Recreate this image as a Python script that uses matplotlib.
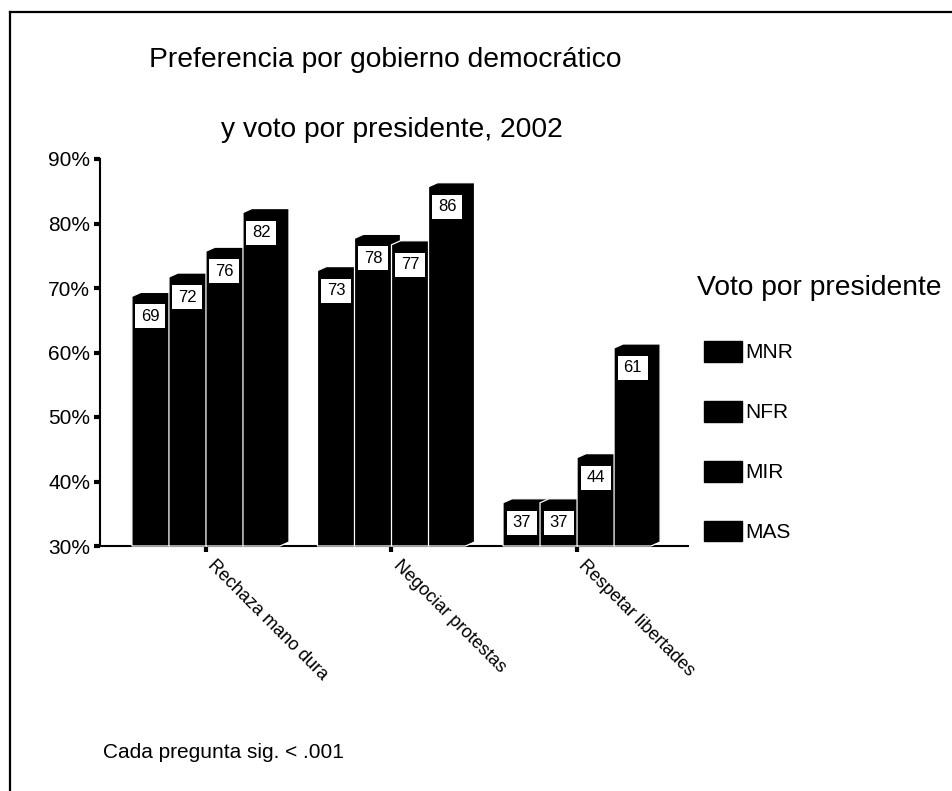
import matplotlib
matplotlib.use("Agg")
import matplotlib.pyplot as plt
from matplotlib.patches import Polygon, Rectangle, Patch
from matplotlib.lines import Line2D
from matplotlib import font_manager

# ---- data ----
categories = ["Rechaza mano dura", "Negociar protestas", "Respetar libertades"]
series = ["MNR", "NFR", "MIR", "MAS"]
mnr = [69, 73, 37]
nfr = [72, 78, 37]
mir = [76, 77, 44]
mas = [82, 86, 61]
values = [mnr, nfr, mir, mas]
yticks = [30, 40, 50, 60, 70, 80, 90]
ytick_labels = ["30%", "40%", "50%", "60%", "70%", "80%", "90%"]
title1 = "Preferencia por gobierno democrático"
title2 = "y voto por presidente, 2002"
legend_title = "Voto por presidente"
footer = "Cada pregunta sig. < .001"

names = {f.name for f in font_manager.fontManager.ttflist}
BASE = "Liberation Sans" if "Liberation Sans" in names else "DejaVu Sans"
NARROW = "Liberation Sans Narrow" if "Liberation Sans Narrow" in names else BASE
plt.rcParams["font.family"] = [BASE, "DejaVu Sans"]

W, H = 952, 791
fig = plt.figure(figsize=(W / 100, H / 100), dpi=100)
fig.patch.set_facecolor("white")


def fx(px):
    return px / W


def fy(py):
    return 1 - py / H


ax = fig.add_axes([fx(100), fy(546), 588 / W, (546 - 159) / H])
ax.set_xlim(-0.571, 2.598)
ax.set_ylim(30, 90)
ax.set_facecolor("none")
for s in ["top", "right"]:
    ax.spines[s].set_visible(False)
for s in ["left", "bottom"]:
    ax.spines[s].set_linewidth(1.5)
    ax.spines[s].set_color("black")
    ax.spines[s].set_zorder(1)

ax.set_yticks(yticks)
ax.set_yticklabels(ytick_labels)
ax.tick_params(axis="y", length=4, width=3, direction="out", pad=3, labelsize=15, colors="black")
ax.set_xticks(range(len(categories)))
ax.set_xticklabels([])
ax.tick_params(axis="x", length=4, width=3, direction="out", colors="black")

# category labels rotated
for i, c in enumerate(categories):
    ax.annotate(c, xy=(i, 30), xycoords="data", xytext=(7.5, -8.0), textcoords="offset points",
                rotation=-45, rotation_mode="anchor", ha="left", va="top",
                fontsize=13, family=[NARROW, BASE], annotation_clip=False)

# bars (3D-like)
n = len(series)
bw = 0.1995
dx = 9 / 185.5
dy = 0.62
for gi in range(len(categories)):
    for si in range(n):
        v = values[si][gi]
        x0 = gi - n * bw / 2 + si * bw
        x1 = x0 + bw
        f = v - 0.3
        z = 2 + si * 0.1
        shape = [(x0, 30), (x0, f), (x0 + dx, f + dy), (x1 + dx, f + dy),
                 (x1 + dx, 30 + dy), (x1, 30)]
        ax.add_patch(Polygon(shape, closed=True, facecolor="black", edgecolor="white",
                             linewidth=0.9, zorder=z, clip_on=False))
        xc = (x0 + x1) / 2
        bh = 24 / 6.45
        bwid = 30 / 185.5
        btop = f - 8 / 6.45
        ax.add_patch(Rectangle((xc - bwid / 2, btop - bh), bwid, bh, facecolor="white",
                               edgecolor="none", zorder=z + 0.05, clip_on=False))
        ax.text(xc, btop - bh / 2, f"{v}", ha="center", va="center", fontsize=12,
                zorder=z + 0.06, color="black")

# legend
handles = [Patch(facecolor="black", edgecolor="black") for _ in series]
leg = ax.legend(handles, series, loc="upper left", bbox_to_anchor=(fx(704), fy(341)),
                bbox_transform=fig.transFigure, frameon=False,
                prop={"family": [NARROW, BASE], "size": 15},
                handlelength=1.83, handleheight=1.15, handletextpad=0.15,
                labelspacing=1.85, borderpad=0, borderaxespad=0)

fig.text(fx(697), fy(295), legend_title, fontsize=20.3, ha="left", va="baseline")
fig.text(fx(385), fy(67), title1, fontsize=20.3, ha="center", va="baseline")
fig.text(fx(392), fy(137), title2, fontsize=20.3, ha="center", va="baseline")
fig.text(fx(103), fy(758), footer, fontsize=15, ha="left", va="baseline")

# outer frame (left and top)
fig.add_artist(Line2D([fx(10), fx(10)], [fy(12), 0], color="black", linewidth=1.6))
fig.add_artist(Line2D([fx(10), 1], [fy(12), fy(12)], color="black", linewidth=1.6))

fig.savefig("out.png", dpi=100, facecolor="white")
